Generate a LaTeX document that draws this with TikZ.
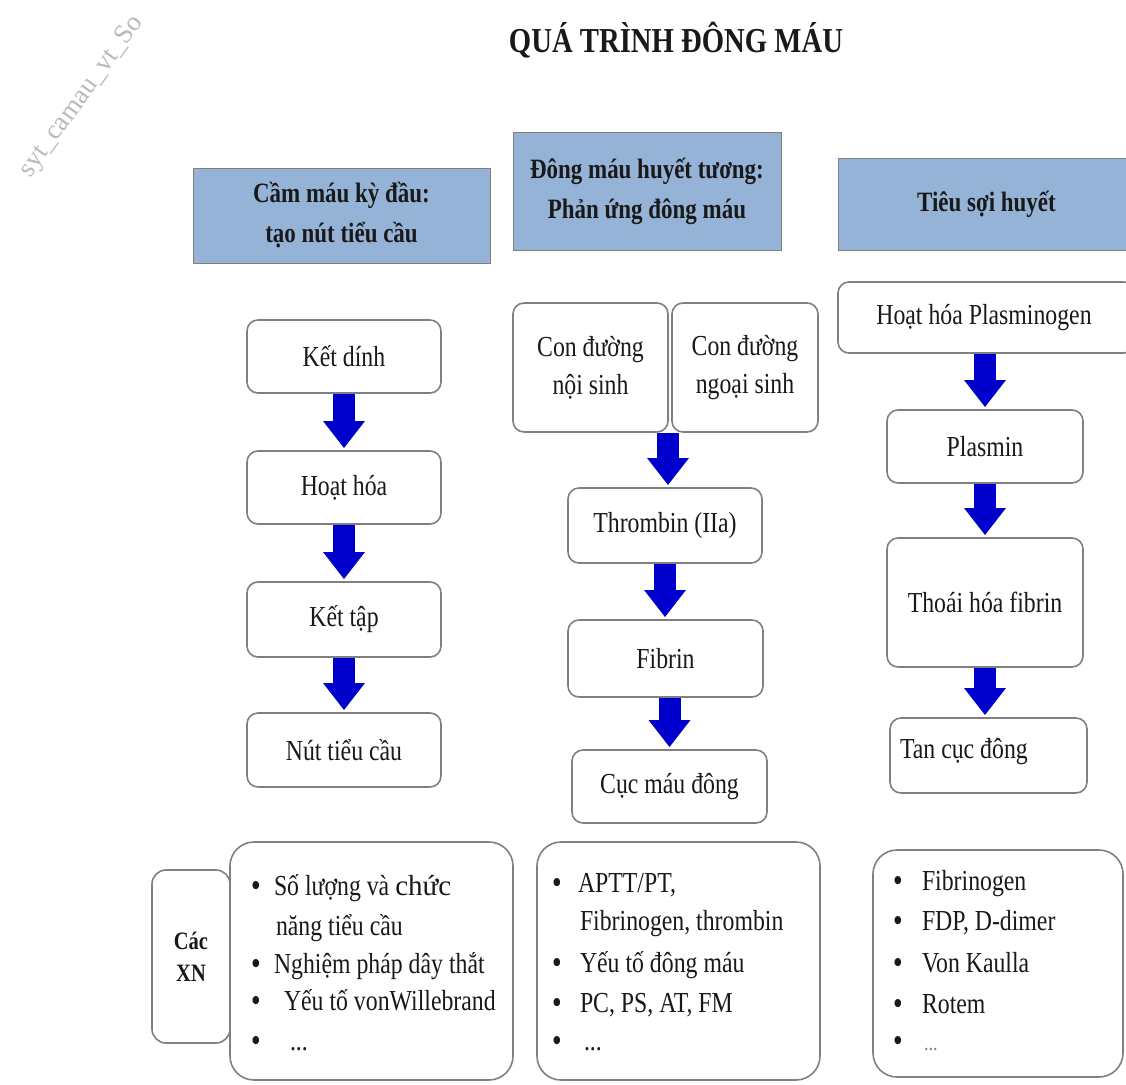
\documentclass[tikz,border=0pt]{standalone}
\usepackage{fontspec}
\setmainfont{Liberation Serif}[FakeStretch=0.82]
\newfontfamily\plainserif{Liberation Serif}
\usetikzlibrary{arrows.meta,calc}

\definecolor{headfill}{RGB}{149,179,215}
\definecolor{framegray}{RGB}{128,128,128}
\definecolor{flowblue}{RGB}{0,0,205}
\definecolor{ink}{RGB}{25,25,25}

\tikzset{
  every node/.style={inner sep=0pt, outer sep=0pt},
  headbox/.style={draw=framegray, line width=1pt, fill=headfill, align=center,
    font=\fontsize{28}{40}\selectfont\bfseries, text=ink},
  stepbox/.style={draw=framegray, line width=1.6pt, fill=white, rounded corners=11pt,
    align=center, font=\fontsize{29}{38}\selectfont, text=ink},
  testbox/.style={draw=framegray, line width=1.6pt, fill=white, rounded corners=24pt},
  flow/.style={draw=flowblue, line width=22pt,
    -{Triangle[width=42pt,length=27pt,line width=0pt]}, shorten >=3pt, shorten <=1pt},
  itemtext/.style={anchor=base west, font=\fontsize{29}{34}\selectfont, text=ink},
  itemdot/.style={anchor=base, font=\fontsize{30}{34}\selectfont\bfseries, text=ink},
}

\begin{document}
\begin{tikzpicture}[x=1pt, y=-1pt]
\useasboundingbox (0,0) rectangle (1126,1084);

% watermark
\node[text=gray!55, font=\plainserif\fontsize{27}{27}\selectfont, rotate=54] (wm) at (82,97) {syt\_camau\_vt\_So};

% title
\node[font=\fontsize{35}{40}\selectfont\bfseries, text=ink] (title) at (676,40) {QUÁ TRÌNH ĐÔNG MÁU};

% column headers
\node[headbox, minimum width=297pt, minimum height=95pt] (h1) at (341.5,215.5) {Cầm máu kỳ đầu:\\tạo nút tiểu cầu};
\node[headbox, minimum width=268pt, minimum height=118pt] (h2) at (647,191) {Đông máu huyết tương:\\Phản ứng đông máu};
\node[headbox, minimum width=297pt, minimum height=92pt] (h3) at (986.5,204) {Tiêu sợi huyết};

% primary haemostasis
\node[stepbox, minimum width=194pt, minimum height=73pt] (ketdinh) at (344,356.5) {Kết dính};
\node[stepbox, minimum width=194pt, minimum height=73pt] (hoathoa) at (344,487.5) {Hoạt hóa};
\node[stepbox, minimum width=194pt, minimum height=75pt] (kettap) at (344,619.5) {Kết tập};
\node[stepbox, minimum width=194pt, minimum height=74pt] (nut) at (344,750) {Nút tiểu cầu};

\draw[flow] (ketdinh.south) -- (hoathoa.north);
\draw[flow] (hoathoa.south) -- (kettap.north);
\draw[flow] (kettap.south) -- (nut.north);

% coagulation
\node[stepbox, minimum width=155pt, minimum height=129pt] (noi) at (590.5,367.5) {Con đường\\nội sinh};
\node[stepbox, minimum width=146pt, minimum height=129pt] (ngoai) at (745,367.5) {Con đường\\ngoại sinh};
\node[stepbox, minimum width=194pt, minimum height=75pt] (thrombin) at (665,525.5) {Thrombin (IIa)};
\node[stepbox, minimum width=195pt, minimum height=77pt] (fibrin) at (665.5,658.5) {Fibrin};
\node[stepbox, minimum width=195pt, minimum height=73pt] (cuc) at (669.5,786.5) {Cục máu đông};

\coordinate (split) at ($(noi.south east)!0.5!(ngoai.south west)+(-2,0)$);
\draw[flow] (split) -- (split |- thrombin.north);
\draw[flow] (thrombin.south) -- (thrombin.south |- fibrin.north);
\draw[flow] (fibrin.south -| cuc.north) -- (cuc.north);

% fibrinolysis
\node[stepbox, minimum width=297pt, minimum height=71pt] (plg) at (986.5,317.5) {};
\node[font=\fontsize{29}{38}\selectfont, text=ink] (plgtext) at (984,317.5) {Hoạt hóa Plasminogen};
\node[stepbox, minimum width=196pt, minimum height=73pt] (plasmin) at (985,446.5) {Plasmin};
\node[stepbox, minimum width=196pt, minimum height=129pt] (thoai) at (985,602.5) {Thoái hóa fibrin};
\node[stepbox, minimum width=197pt, minimum height=75pt] (tan) at (988.5,755.5) {};
\node[font=\fontsize{29}{38}\selectfont, text=ink, anchor=west] (tantext) at (900,752) {Tan cục đông};

\draw[flow] (plg.south -| plasmin.north) -- (plasmin.north);
\draw[flow] (plasmin.south) -- (thoai.north);
\draw[flow] (thoai.south) -- (tan.north -| thoai.south);

% laboratory tests
\node[draw=framegray, line width=1.6pt, fill=white, rounded corners=14pt,
  minimum width=78pt, minimum height=173pt, align=center,
  font=\fontsize{25}{32}\selectfont\bfseries, text=ink] (xn) at (191,956.5) {Các\\XN};
\node[testbox, minimum width=283pt, minimum height=238pt] (t1) at (371.5,961) {};
\node[testbox, minimum width=283pt, minimum height=238pt] (t2) at (678.5,961) {};
\node[testbox, minimum width=250pt, minimum height=227pt] (t3) at (998,963.5) {};

% tests, primary haemostasis
\node[itemdot] (d11) at (256,895) {•};
\node[itemtext] (l11) at (274,895) {Số lượng và {\plainserif chức}};
\node[itemtext] (l12) at (276,935) {năng tiểu cầu};
\node[itemdot] (d13) at (256,973) {•};
\node[itemtext] (l13) at (274,973) {Nghiệm pháp dây thắt};
\node[itemdot] (d14) at (256,1010) {•};
\node[itemtext] (l14) at (284,1010) {Yếu tố vonWillebrand};
\node[itemdot] (d15) at (256,1050) {•};
\node[itemtext] (l15) at (290,1050) {...};

% tests, coagulation
\node[itemdot] (d21) at (557,892) {•};
\node[itemtext] (l21) at (578,892) {APTT/PT,};
\node[itemtext] (l22) at (580,930) {Fibrinogen, thrombin};
\node[itemdot] (d23) at (557,972) {•};
\node[itemtext] (l23) at (580,972) {Yếu tố đông máu};
\node[itemdot] (d24) at (557,1012) {•};
\node[itemtext] (l24) at (580,1012) {PC, PS, AT, FM};
\node[itemdot] (d25) at (557,1050) {•};
\node[itemtext] (l25) at (584,1050) {...};

% tests, fibrinolysis
\node[itemdot] (d31) at (898,890) {•};
\node[itemtext] (l31) at (922,890) {Fibrinogen};
\node[itemdot] (d32) at (898,930) {•};
\node[itemtext] (l32) at (922,930) {FDP, D-dimer};
\node[itemdot] (d33) at (898,972) {•};
\node[itemtext] (l33) at (922,972) {Von Kaulla};
\node[itemdot] (d34) at (898,1013) {•};
\node[itemtext] (l34) at (922,1013) {Rotem};
\node[itemdot] (d35) at (898,1050) {•};
\node[itemtext, text=gray, font=\fontsize{22}{30}\selectfont] (l35) at (924,1050) {...};
\end{tikzpicture}
\end{document}
